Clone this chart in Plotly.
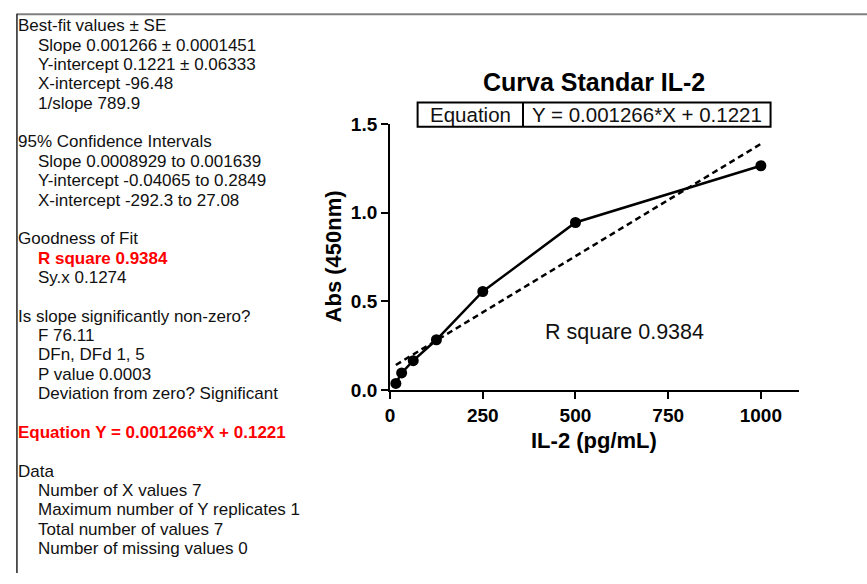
import plotly.graph_objects as go

# ---------------- data ----------------
conc_pg_ml = [15.625, 31.25, 62.5, 125, 250, 500, 1000]
abs_450 = [0.038, 0.097, 0.166, 0.284, 0.556, 0.945, 1.265]
fit_slope = 0.001266
fit_intercept = 0.1221
x_ticks = [0, 250, 500, 750, 1000]
y_ticks = [0.0, 0.5, 1.0, 1.5]
y_tick_labels = ["0.0", "0.5", "1.0", "1.5"]

chart_title = "Curva Standar IL-2"
x_title = "IL-2 (pg/mL)"
y_title = "Abs (450nm)"
equation_label = "Equation"
equation_text = "Y = 0.001266*X + 0.1221"
rsq_text = "R square 0.9384"

# left results panel: (text, indented, style)
results_lines = [
    ("Best-fit values ± SE", False, "n"),
    ("Slope 0.001266 ± 0.0001451", True, "n"),
    ("Y-intercept 0.1221 ± 0.06333", True, "n"),
    ("X-intercept -96.48", True, "n"),
    ("1/slope 789.9", True, "n"),
    ("", False, "n"),
    ("95% Confidence Intervals", False, "n"),
    ("Slope 0.0008929 to 0.001639", True, "n"),
    ("Y-intercept -0.04065 to 0.2849", True, "n"),
    ("X-intercept -292.3 to 27.08", True, "n"),
    ("", False, "n"),
    ("Goodness of Fit", False, "n"),
    ("R square 0.9384", True, "red"),
    ("Sy.x 0.1274", True, "n"),
    ("", False, "n"),
    ("Is slope significantly non-zero?", False, "n"),
    ("F 76.11", True, "n"),
    ("DFn, DFd 1, 5", True, "n"),
    ("P value 0.0003", True, "n"),
    ("Deviation from zero? Significant", True, "n"),
    ("", False, "n"),
    ("Equation Y = 0.001266*X + 0.1221", False, "red"),
    ("", False, "n"),
    ("Data", False, "n"),
    ("Number of X values 7", True, "n"),
    ("Maximum number of Y replicates 1", True, "n"),
    ("Total number of values 7", True, "n"),
    ("Number of missing values 0", True, "n"),
]

# ---------------- layout helpers ----------------
W, H = 867, 584
FONT = "Arial, 'Liberation Sans', sans-serif"


def px(x):
    return x / W


def py(y):
    return 1 - y / H


fit_x = [min(conc_pg_ml), max(conc_pg_ml)]
fit_y = [fit_slope * v + fit_intercept for v in fit_x]

fig = go.Figure()
fig.add_trace(go.Scatter(
    x=fit_x, y=fit_y, mode="lines",
    line=dict(color="black", width=2.5, dash="6px,4px"),
    showlegend=False, hoverinfo="skip",
))
fig.add_trace(go.Scatter(
    x=conc_pg_ml, y=abs_450, mode="lines+markers",
    line=dict(color="black", width=2.5),
    marker=dict(color="black", size=11),
    cliponaxis=False, showlegend=False,
))

annotations = []
for i, (txt, ind, style) in enumerate(results_lines):
    if not txt:
        continue
    annotations.append(dict(
        text=txt, x=px(31 if ind else 11.5), y=py(16.4 + 20.08 * i),
        xref="paper", yref="paper", xanchor="left", yanchor="middle",
        showarrow=False,
        font=dict(family=FONT, size=17,
                  color="#ff0000" if style == "red" else "#111111",
                  weight="bold" if style == "red" else "normal"),
    ))

annotations += [
    dict(text=chart_title, x=px(592), y=py(74.7), xref="paper", yref="paper",
         xanchor="center", yanchor="middle", showarrow=False,
         font=dict(family=FONT, size=25, color="black", weight="bold")),
    dict(text=equation_label, x=px(468), y=py(108), xref="paper", yref="paper",
         xanchor="center", yanchor="middle", showarrow=False,
         font=dict(family=FONT, size=20.5, color="#111111")),
    dict(text=equation_text, x=px(646), y=py(108), xref="paper", yref="paper",
         xanchor="center", yanchor="middle", showarrow=False,
         font=dict(family=FONT, size=20.5, color="#111111")),
    dict(text=rsq_text, x=px(623.5), y=py(334), xref="paper", yref="paper",
         xanchor="center", yanchor="middle", showarrow=False,
         font=dict(family=FONT, size=21.5, color="#111111")),
    dict(text=x_title, x=px(592), y=py(447), xref="paper", yref="paper",
         xanchor="center", yanchor="middle", showarrow=False,
         font=dict(family=FONT, size=22, color="black", weight="bold")),
    dict(text=y_title, x=px(330), y=py(255.5), xref="paper", yref="paper",
         xanchor="center", yanchor="middle", showarrow=False, textangle=-90,
         font=dict(family=FONT, size=22, color="black", weight="bold")),
]

shapes = [
    dict(type="line", xref="paper", yref="paper", x0=px(12), x1=px(867),
         y0=py(4.5), y1=py(4.5), line=dict(color="#808080", width=2)),
    dict(type="line", xref="paper", yref="paper", x0=px(12), x1=px(12),
         y0=py(4), y1=py(584), line=dict(color="#222222", width=1.5)),
    dict(type="rect", xref="paper", yref="paper", x0=px(415), x1=px(770),
         y0=py(96), y1=py(121), line=dict(color="black", width=2)),
    dict(type="line", xref="paper", yref="paper", x0=px(521), x1=px(521),
         y0=py(96), y1=py(121), line=dict(color="black", width=2)),
]

fig.update_layout(
    width=W, height=H,
    margin=dict(l=0, r=0, t=0, b=0),
    paper_bgcolor="white", plot_bgcolor="white",
    font=dict(family=FONT, color="black"),
    annotations=annotations, shapes=shapes,
    xaxis=dict(
        domain=[px(387.3), px(798.3)], range=[0, 1102],
        tickvals=x_ticks, ticktext=[str(v) for v in x_ticks],
        showgrid=False, zeroline=False, showline=True,
        linecolor="black", linewidth=2,
        ticks="outside", ticklen=7, tickwidth=2, tickcolor="black",
        tickfont=dict(family=FONT, size=19, color="black", weight="bold"),
        anchor="y",
    ),
    yaxis=dict(
        domain=[py(394.3), py(118.3)], range=[0, 1.5],
        tickvals=y_ticks, ticktext=y_tick_labels,
        showgrid=False, zeroline=False, showline=True,
        linecolor="black", linewidth=2,
        ticks="outside", ticklen=7, tickwidth=2, tickcolor="black",
        tickfont=dict(family=FONT, size=19, color="black", weight="bold"),
        anchor="x",
    ),
)

fig.write_html("out.html")
